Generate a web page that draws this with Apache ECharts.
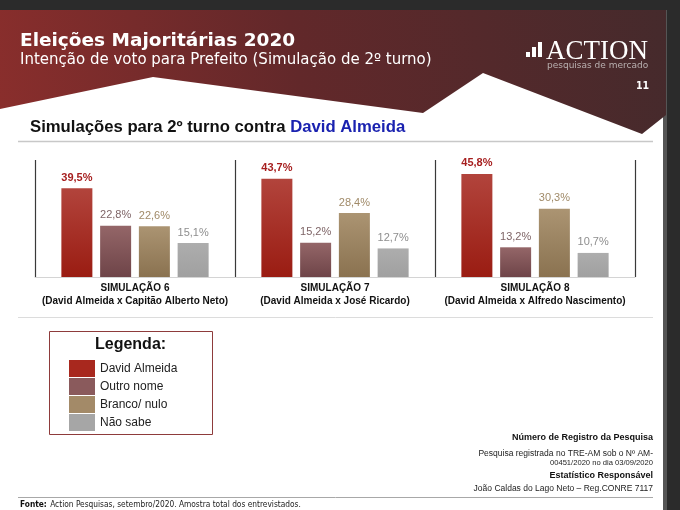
<!DOCTYPE html>
<html><head><meta charset="utf-8">
<script src="https://cdn.jsdelivr.net/npm/echarts@6/dist/echarts.min.js"></script>
<style>html,body{margin:0;padding:0;background:#2b2b2b;}#c{width:680px;height:510px;}</style>
</head><body><div id="c"></div>
<script>
const categories = ['SIMULAÇÃO 6', 'SIMULAÇÃO 7', 'SIMULAÇÃO 8'];
const matchups = ['(David Almeida x Capitão Alberto Neto)', '(David Almeida x José Ricardo)', '(David Almeida x Alfredo Nascimento)'];
const seriesNames = ['David Almeida', 'Outro nome', 'Branco/ nulo', 'Não sabe'];
const davidAlmeida = [39.5, 43.7, 45.8];
const outroNome = [22.8, 15.2, 13.2];
const brancoNulo = [22.6, 28.4, 30.3];
const naoSabe = [15.1, 12.7, 10.7];

const seriesData = [davidAlmeida, outroNome, brancoNulo, naoSabe];
const solid = ['#a8281e', '#8a5a5c', '#a38a68', '#a6a6a6'];
const grads = [['#b2443c', '#9a1c12'], ['#946668', '#6e4448'], ['#ab9472', '#8a7250'], ['#adadad', '#a0a0a0']];
const labelColors = ['#a61e1e', '#7e6466', '#a08a68', '#8e8e8e'];
const fmt = v => String(v).replace('.', ',') + '%';

const chart = echarts.init(document.getElementById('c'));
const ff = 'Liberation Sans, Arial, sans-serif';
chart.setOption({
  backgroundColor: '#2b2b2b',
  animation: false,
  grid: { left: 35, right: 45, top: 160, bottom: 233, containLabel: false },
  xAxis: {
    type: 'category', data: categories,
    axisLine: { show: true, lineStyle: { color: '#d4d4d4', width: 1 } },
    axisTick: { show: false },
    splitLine: { show: true, lineStyle: { color: '#3a3a3a', width: 1.2 } },
    axisLabel: {
      margin: 5, interval: 0,
      formatter: (v, i) => '{a|' + v + '}\n{a|' + matchups[i] + '}',
      rich: { a: { fontFamily: ff, fontWeight: 'bold', fontSize: 10, color: '#111', lineHeight: 13, align: 'center' } }
    }
  },
  yAxis: { type: 'value', min: 0, max: 52, show: false, splitLine: { show: false } },
  legend: {
    orient: 'vertical', left: 64, top: 355, itemWidth: 26, itemHeight: 17, itemGap: 1,
    icon: 'rect', selectedMode: false,
    textStyle: { fontFamily: ff, fontSize: 12, color: '#222' },
    data: seriesNames.map((n, i) => ({ name: n, itemStyle: { color: solid[i] } }))
  },
  series: seriesData.map((d, i) => ({
    type: 'bar', name: seriesNames[i], data: d, barWidth: 31, barGap: '25%',
    itemStyle: { color: new echarts.graphic.LinearGradient(0, 0, 0, 1, [{ offset: 0, color: grads[i][0] }, { offset: 1, color: grads[i][1] }]) },
    label: { show: true, position: 'top', distance: 5, formatter: p => fmt(p.value),
      fontFamily: ff, fontSize: 11, fontWeight: i === 0 ? 'bold' : 'normal', color: labelColors[i] }
  })),
  graphic: [
    { type: 'rect', z: -10, shape: { x: 0, y: 10, width: 666, height: 500 }, style: { fill: '#ffffff' } },
    { type: 'rect', z: -9, shape: { x: 663, y: 10, width: 4, height: 500 }, style: { fill: '#555555' } },
    { type: 'polygon', z: -8, shape: { points: [[0, 10], [666, 10], [666, 115], [642, 134], [483, 73], [423, 113], [153, 77], [0, 109]] },
      style: { fill: new echarts.graphic.LinearGradient(0, 1, 1, 0, [{ offset: 0, color: '#8a2e2c' }, { offset: 0.45, color: '#62282a' }, { offset: 1, color: '#452a2c' }]) } },
    { type: 'text', left: 20, top: 32, style: { text: 'Eleições Majoritárias 2020', font: 'bold 18.5px "DejaVu Sans", sans-serif', fill: '#ffffff' } },
    { type: 'text', left: 20, top: 53, style: { text: 'Intenção de voto para Prefeito (Simulação de 2º turno)', font: '15px "DejaVu Sans", sans-serif', fill: '#ffffff' } },
    { type: 'rect', shape: { x: 526, y: 52, width: 4, height: 5 }, style: { fill: '#fff' } },
    { type: 'rect', shape: { x: 532, y: 47, width: 4, height: 10 }, style: { fill: '#fff' } },
    { type: 'rect', shape: { x: 538, y: 42, width: 4, height: 15 }, style: { fill: '#fff' } },
    { type: 'text', left: 546, top: 38, style: { text: 'ACTION', font: '27px "Liberation Serif", serif', fill: '#ffffff' } },
    { type: 'text', left: 547, top: 61, style: { text: 'pesquisas de mercado', font: '9px "DejaVu Sans", sans-serif', fill: '#b9b0b0' } },
    { type: 'text', left: 636, top: 81, style: { text: '11', font: 'bold 10.5px "DejaVu Sans Condensed", sans-serif', fill: '#ffffff' } },
    { type: 'text', left: 30, top: 119, style: { text: '{a|Simulações para 2º turno contra }{b|David Almeida}',
      rich: { a: { font: 'bold 16.7px "Liberation Sans", Arial', fill: '#111' }, b: { font: 'bold 16.7px "Liberation Sans", Arial', fill: '#1a22b0' } } } },
    { type: 'line', shape: { x1: 18, y1: 141.5, x2: 653, y2: 141.5 }, style: { stroke: '#c8c8c8', lineWidth: 1.5 } },
    { type: 'line', shape: { x1: 18, y1: 317.5, x2: 653, y2: 317.5 }, style: { stroke: '#dcdcdc', lineWidth: 1 } },
    { type: 'rect', shape: { x: 49.5, y: 331.5, width: 163, height: 103 }, style: { fill: 'rgba(0,0,0,0)', stroke: '#8e3b3b', lineWidth: 1 } },
    { type: 'text', left: 95, top: 337, style: { text: 'Legenda:', font: 'bold 16px "Liberation Sans", Arial', fill: '#111' } },
    { type: 'text', right: 27, top: 433, style: { text: 'Número de Registro da Pesquisa', font: 'bold 9px "Liberation Sans", Arial', fill: '#111', align: 'right' } },
    { type: 'text', right: 27, top: 449, style: { text: 'Pesquisa registrada no TRE-AM sob o Nº AM-', font: '8.5px "Liberation Sans", Arial', fill: '#222', align: 'right' } },
    { type: 'text', right: 27, top: 459, style: { text: '00451/2020 no dia 03/09/2020', font: '7.6px "Liberation Sans Narrow", "Liberation Sans", Arial', fill: '#222', align: 'right' } },
    { type: 'text', right: 27, top: 471, style: { text: 'Estatístico Responsável', font: 'bold 9px "Liberation Sans", Arial', fill: '#111', align: 'right' } },
    { type: 'text', right: 27, top: 484, style: { text: 'João Caldas do Lago Neto – Reg.CONRE 7117', font: '8.5px "Liberation Sans", Arial', fill: '#222', align: 'right' } },
    { type: 'line', shape: { x1: 18, y1: 497.5, x2: 653, y2: 497.5 }, style: { stroke: '#a8a8a8', lineWidth: 1 } },
    { type: 'text', left: 20, top: 499, style: { text: '{b|Fonte:} {a|Action Pesquisas, setembro/2020. Amostra total dos entrevistados.}',
      rich: { b: { font: 'bold 8.3px "DejaVu Sans Condensed", sans-serif', fill: '#111' }, a: { font: '8.3px "DejaVu Sans Condensed", sans-serif', fill: '#222' } } } }
  ]
});
</script></body></html>
